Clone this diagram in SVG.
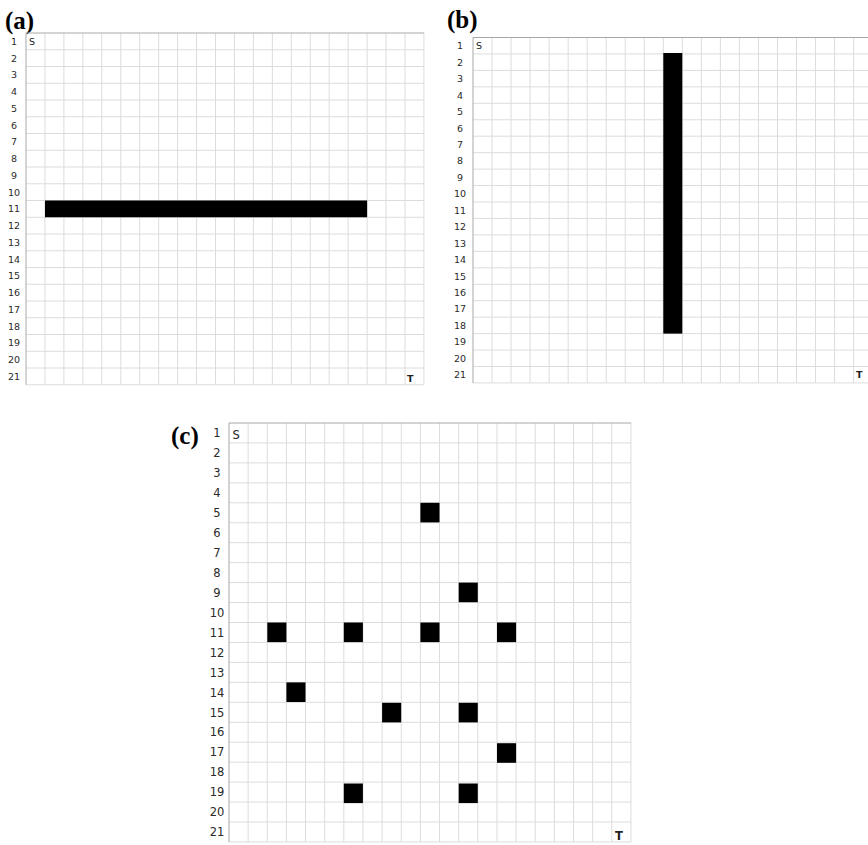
<svg xmlns="http://www.w3.org/2000/svg" width="868" height="845" viewBox="0 0 868 845">
<style>
.bg{fill:#ffffff}
.grid{fill:none;stroke:#dcdcdc;stroke-width:1}
.edge{fill:none;stroke:#a8a8a8;stroke-width:1}
.cell{fill:#000000}
.plabel{font-family:"Liberation Serif",serif;font-weight:bold;font-size:25px;fill:#000}
.rn{font-family:"DejaVu Sans",sans-serif;fill:#2a2a2a;text-anchor:middle}
.ra{font-size:9.5px}
.rc{font-size:11.5px}
.st{font-family:"DejaVu Sans",sans-serif;fill:#222}
</style>
<rect class="bg" x="0" y="0" width="868" height="845"/>

<g id="panel-a">
<text class="plabel" x="5" y="29">(a)</text>
<path class="grid" d="M44.95 33V384.75M63.9 33V384.75M82.85 33V384.75M101.8 33V384.75M120.75 33V384.75M139.7 33V384.75M158.65 33V384.75M177.6 33V384.75M196.55 33V384.75M215.5 33V384.75M234.45 33V384.75M253.4 33V384.75M272.35 33V384.75M291.3 33V384.75M310.25 33V384.75M329.2 33V384.75M348.15 33V384.75M367.1 33V384.75M386.05 33V384.75M405 33V384.75M423.95 33V384.75"/>
<path class="grid" d="M26 49.75H424M26 66.5H424M26 83.25H424M26 100H424M26 116.75H424M26 133.5H424M26 150.25H424M26 167H424M26 183.75H424M26 200.5H424M26 217.25H424M26 234H424M26 250.75H424M26 267.5H424M26 284.25H424M26 301H424M26 317.75H424M26 334.5H424M26 351.25H424M26 368H424M26 384.75H424"/>
<path class="edge" d="M26 33H424M26 33V384.75"/>
<g class="rn ra">
<text x="14" y="44.9">1</text><text x="14" y="61.6">2</text><text x="14" y="78.4">3</text><text x="14" y="95.1">4</text><text x="14" y="111.9">5</text><text x="14" y="128.6">6</text><text x="14" y="145.4">7</text><text x="14" y="162.1">8</text><text x="14" y="178.9">9</text><text x="14" y="195.6">10</text><text x="14" y="212.4">11</text><text x="14" y="229.1">12</text><text x="14" y="245.9">13</text><text x="14" y="262.6">14</text><text x="14" y="279.4">15</text><text x="14" y="296.1">16</text><text x="14" y="312.9">17</text><text x="14" y="329.6">18</text><text x="14" y="346.4">19</text><text x="14" y="363.1">20</text><text x="14" y="379.9">21</text>
</g>
<text class="st" x="29" y="45" font-size="9.5">S</text>
<text class="st" x="407" y="382" font-size="9.5" font-weight="bold">T</text>
<g id="a-wall"><rect class="cell" x="45" y="200.5" width="322.1" height="16.75"/></g>
</g>

<g id="panel-b">
<text class="plabel" x="447" y="28">(b)</text>
<path class="grid" d="M492.03 37.5V383M511.06 37.5V383M530.09 37.5V383M549.12 37.5V383M568.15 37.5V383M587.18 37.5V383M606.21 37.5V383M625.24 37.5V383M644.27 37.5V383M663.3 37.5V383M682.33 37.5V383M701.36 37.5V383M720.39 37.5V383M739.42 37.5V383M758.45 37.5V383M777.48 37.5V383M796.51 37.5V383M815.54 37.5V383M834.57 37.5V383M853.6 37.5V383"/>
<path class="grid" d="M473 53.95H868M473 70.4H868M473 86.85H868M473 103.3H868M473 119.75H868M473 136.2H868M473 152.65H868M473 169.1H868M473 185.55H868M473 202H868M473 218.45H868M473 234.9H868M473 251.35H868M473 267.8H868M473 284.25H868M473 300.7H868M473 317.15H868M473 333.6H868M473 350.05H868M473 366.5H868M473 382.95H868"/>
<path class="edge" d="M473 37.5H868M473 37.5V383"/>
<g class="rn ra">
<text x="460" y="49.2">1</text><text x="460" y="65.7">2</text><text x="460" y="82.1">3</text><text x="460" y="98.6">4</text><text x="460" y="115">5</text><text x="460" y="131.5">6</text><text x="460" y="147.9">7</text><text x="460" y="164.4">8</text><text x="460" y="180.8">9</text><text x="460" y="197.3">10</text><text x="460" y="213.7">11</text><text x="460" y="230.2">12</text><text x="460" y="246.6">13</text><text x="460" y="263.1">14</text><text x="460" y="279.5">15</text><text x="460" y="296">16</text><text x="460" y="312.4">17</text><text x="460" y="328.9">18</text><text x="460" y="345.3">19</text><text x="460" y="361.8">20</text><text x="460" y="378.2">21</text>
</g>
<text class="st" x="476" y="49" font-size="9.5">S</text>
<text class="st" x="856" y="378" font-size="9.5" font-weight="bold">T</text>
<g id="b-wall"><rect class="cell" x="663.3" y="53" width="19" height="280.6"/></g>
</g>

<g id="panel-c">
<text class="plabel" x="171" y="444">(c)</text>
<path class="grid" d="M248.14 423V842M267.28 423V842M286.42 423V842M305.56 423V842M324.7 423V842M343.84 423V842M362.98 423V842M382.12 423V842M401.26 423V842M420.4 423V842M439.54 423V842M458.68 423V842M477.82 423V842M496.96 423V842M516.1 423V842M535.24 423V842M554.38 423V842M573.52 423V842M592.66 423V842M611.8 423V842M630.94 423V842"/>
<path class="grid" d="M229 442.95H631M229 462.9H631M229 482.85H631M229 502.8H631M229 522.75H631M229 542.7H631M229 562.65H631M229 582.6H631M229 602.55H631M229 622.5H631M229 642.45H631M229 662.4H631M229 682.35H631M229 702.3H631M229 722.25H631M229 742.2H631M229 762.15H631M229 782.1H631M229 802.05H631M229 822H631M229 841.95H631"/>
<path class="edge" d="M229 423H631M229 423V842"/>
<g class="rn rc">
<text x="217" y="437.2">1</text><text x="217" y="457.1">2</text><text x="217" y="477.1">3</text><text x="217" y="497">4</text><text x="217" y="517">5</text><text x="217" y="536.9">6</text><text x="217" y="556.9">7</text><text x="217" y="576.8">8</text><text x="217" y="596.8">9</text><text x="217" y="616.7">10</text><text x="217" y="636.7">11</text><text x="217" y="656.6">12</text><text x="217" y="676.6">13</text><text x="217" y="696.5">14</text><text x="217" y="716.5">15</text><text x="217" y="736.4">16</text><text x="217" y="756.4">17</text><text x="217" y="776.3">18</text><text x="217" y="796.3">19</text><text x="217" y="816.2">20</text><text x="217" y="836.2">21</text>
</g>
<text class="st" x="232.5" y="439" font-size="11.5">S</text>
<text class="st" x="615" y="840" font-size="11.5" font-weight="bold">T</text>
<g id="c-r5c11"><rect class="cell" x="420.4" y="502.8" width="19.1" height="19.6"/></g>
<g id="c-r9c13"><rect class="cell" x="458.7" y="582.6" width="19.1" height="19.6"/></g>
<g id="c-r11c3"><rect class="cell" x="267.3" y="622.5" width="19.1" height="19.6"/></g>
<g id="c-r11c7"><rect class="cell" x="343.8" y="622.5" width="19.1" height="19.6"/></g>
<g id="c-r11c11"><rect class="cell" x="420.4" y="622.5" width="19.1" height="19.6"/></g>
<g id="c-r11c15"><rect class="cell" x="497" y="622.5" width="19.1" height="19.6"/></g>
<g id="c-r14c4"><rect class="cell" x="286.4" y="682.4" width="19.1" height="19.6"/></g>
<g id="c-r15c9"><rect class="cell" x="382.1" y="702.8" width="19.1" height="19.6"/></g>
<g id="c-r15c13"><rect class="cell" x="458.7" y="702.8" width="19.1" height="19.6"/></g>
<g id="c-r17c15"><rect class="cell" x="497" y="743.2" width="19.1" height="19.6"/></g>
<g id="c-r19c7"><rect class="cell" x="343.8" y="783.5" width="19.1" height="19.6"/></g>
<g id="c-r19c13"><rect class="cell" x="458.7" y="783.5" width="19.1" height="19.6"/></g>
</g>
</svg>
